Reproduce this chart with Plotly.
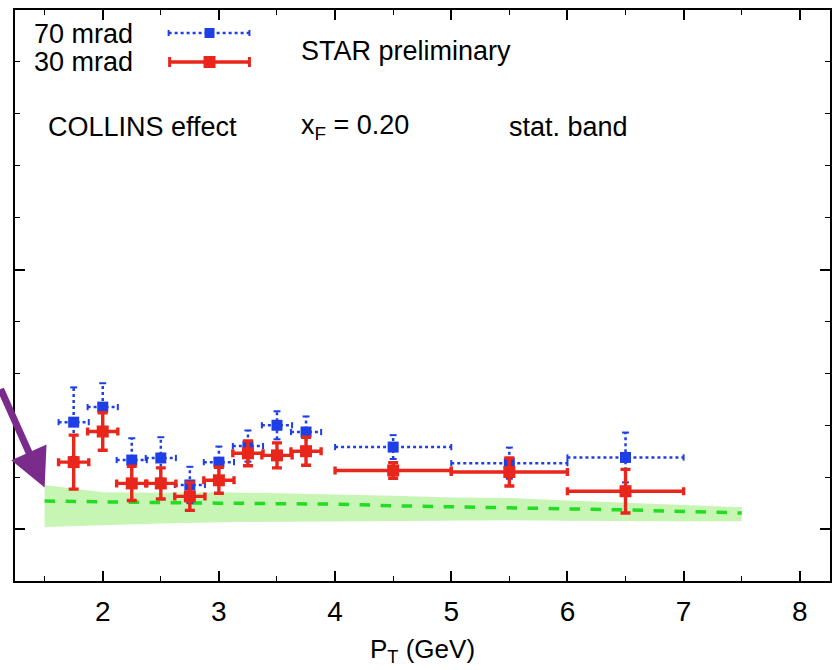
import plotly.graph_objects as go

# ---------------- data ----------------
pt_bins = [1.75, 2.0, 2.25, 2.5, 2.75, 3.0, 3.25, 3.5, 3.75, 4.5, 5.5, 6.5]
pt_halfwidth = [0.13, 0.13, 0.13, 0.13, 0.13, 0.13, 0.13, 0.13, 0.13, 0.5, 0.5, 0.5]

an_70mrad = [0.0206, 0.0235, 0.0133, 0.0137, 0.0085, 0.0129, 0.0160, 0.0200, 0.0187, 0.0158, 0.0127, 0.0138]
err_70mrad = [0.0067, 0.0046, 0.0042, 0.0040, 0.0035, 0.0030, 0.0030, 0.0027, 0.0030, 0.0023, 0.0030, 0.0048]

an_30mrad = [0.0129, 0.0188, 0.0088, 0.0088, 0.0063, 0.0094, 0.0146, 0.0142, 0.0150, 0.0113, 0.0110, 0.0073]
err_30mrad = [0.0052, 0.0036, 0.0033, 0.0030, 0.0027, 0.0025, 0.0024, 0.0024, 0.0027, 0.0015, 0.0027, 0.0042]

band_pt = [1.5, 2.0, 2.5, 3.0, 3.5, 4.0, 4.5, 5.0, 5.5, 6.0, 6.5, 7.0, 7.5]
band_mid = [0.0054, 0.0052, 0.0051, 0.0050, 0.0049, 0.0048, 0.0045, 0.0043, 0.0042, 0.0040, 0.0037, 0.0034, 0.0031]
band_hi = [0.0085, 0.0071, 0.0070, 0.0071, 0.0069, 0.0067, 0.0064, 0.0061, 0.0060, 0.0055, 0.0051, 0.0046, 0.0042]
band_lo = [0.0004, 0.0008, 0.0011, 0.0013, 0.0014, 0.0015, 0.0016, 0.0017, 0.0017, 0.0016, 0.0015, 0.0015, 0.0015]

x_ticks = [2, 3, 4, 5, 6, 7, 8]
y_major = [0.0, 0.05, 0.1]

BLUE = "#1f3fe6"
RED = "#e8261b"
GREEN = "#22dd22"
BAND = "rgba(160,238,130,0.6)"
FONT = "Liberation Sans, Arial, sans-serif"

W, H = 836, 670
ML, MR, MT, MB = 15, 4, 10, 89


def px(x):
    return (x - ML) / (W - ML - MR)


def py(y):
    return (H - MB - y) / (H - MB - MT)


fig = go.Figure()

# stat. band
fig.add_trace(go.Scatter(x=band_pt, y=band_hi, mode="lines", line=dict(width=0),
                         hoverinfo="skip", showlegend=False))
fig.add_trace(go.Scatter(x=band_pt, y=band_lo, mode="lines", line=dict(width=0),
                         fill="tonexty", fillcolor=BAND, hoverinfo="skip", showlegend=False))
fig.add_trace(go.Scatter(x=band_pt, y=band_mid, mode="lines",
                         line=dict(color=GREEN, width=3.5, dash="dash"), showlegend=False))

# 70 mrad: dotted error bars built from the data
bx, by, cx, cy = [], [], [], []
capx, capy = 0.03, 0.0006
for x, y, dx, dy in zip(pt_bins, an_70mrad, pt_halfwidth, err_70mrad):
    bx += [x - dx, x + dx, None, x, x, None]
    by += [y, y, None, y - dy, y + dy, None]
    cx += [x - dx, x - dx, None, x + dx, x + dx, None,
           x - capx, x + capx, None, x - capx, x + capx, None]
    cy += [y - capy, y + capy, None, y - capy, y + capy, None,
           y + dy, y + dy, None, y - dy, y - dy, None]
fig.add_trace(go.Scatter(x=bx, y=by, mode="lines", line=dict(color=BLUE, width=2.5, dash="dot"),
                         showlegend=False, hoverinfo="skip"))
fig.add_trace(go.Scatter(x=cx, y=cy, mode="lines", line=dict(color=BLUE, width=2),
                         showlegend=False, hoverinfo="skip"))
fig.add_trace(go.Scatter(x=pt_bins, y=an_70mrad, mode="markers",
                         marker=dict(symbol="square", size=11, color=BLUE), showlegend=False))

# 30 mrad: solid error bars
fig.add_trace(go.Scatter(
    x=pt_bins, y=an_30mrad, mode="markers",
    marker=dict(symbol="square", size=12, color=RED),
    error_x=dict(type="data", array=pt_halfwidth, color=RED, thickness=3.4, width=4),
    error_y=dict(type="data", array=err_30mrad, color=RED, thickness=3.4, width=5),
    showlegend=False))

# ---------------- legend (drawn by hand, gnuplot style) ----------------
shapes = []
# blue sample
shapes.append(dict(type="line", xref="paper", yref="paper", x0=px(169), x1=px(250), y0=py(33), y1=py(33),
                   line=dict(color=BLUE, width=2.5, dash="dot")))
for xx in (169, 250):
    shapes.append(dict(type="line", xref="paper", yref="paper", x0=px(xx), x1=px(xx), y0=py(30), y1=py(36),
                       line=dict(color=BLUE, width=2)))
shapes.append(dict(type="rect", xref="paper", yref="paper", x0=px(205), x1=px(215), y0=py(28), y1=py(38),
                   line=dict(width=0), fillcolor=BLUE))
# red sample
shapes.append(dict(type="line", xref="paper", yref="paper", x0=px(170), x1=px(250), y0=py(62), y1=py(62),
                   line=dict(color=RED, width=3.4)))
for xx in (170, 250):
    shapes.append(dict(type="line", xref="paper", yref="paper", x0=px(xx), x1=px(xx), y0=py(57), y1=py(67),
                       line=dict(color=RED, width=3)))
shapes.append(dict(type="rect", xref="paper", yref="paper", x0=px(204), x1=px(216), y0=py(56), y1=py(68),
                   line=dict(width=0), fillcolor=RED))

ann = []


def text(s, x, y, size=27):
    ann.append(dict(text=s, xref="paper", yref="paper", x=px(x), y=py(y), xanchor="left", yanchor="middle",
                    showarrow=False, font=dict(family=FONT, size=size, color="black")))


text("70 mrad", 32, 34)
text("30 mrad", 32, 62)
text("STAR preliminary", 300, 51)
text("COLLINS effect", 46, 127)
text("x<sub>F</sub> = 0.20", 300, 127)
text("stat. band", 508, 127)

# x-axis title
ann.append(dict(text="P<sub>T</sub> (GeV)", xref="paper", yref="paper", x=px(423), y=py(650),
                xanchor="center", yanchor="middle", showarrow=False,
                font=dict(family=FONT, size=26, color="black")))

# purple arrow pointing to the band
ann.append(dict(text="", x=1.5, y=0.0080, xref="x", yref="y", ax=-56, ay=-100,
                showarrow=True, arrowhead=2, arrowsize=1.1, arrowwidth=7, arrowcolor="#7a2b8c"))

fig.update_layout(
    width=W, height=H,
    margin=dict(l=ML, r=MR, t=MT, b=MB),
    paper_bgcolor="white", plot_bgcolor="white",
    showlegend=False,
    shapes=shapes, annotations=ann,
    xaxis=dict(range=[1.245, 8.26], tickvals=x_ticks, ticks="inside", ticklen=10, tickwidth=1.5,
               tickcolor="black", showline=True, linecolor="black", linewidth=2, mirror="allticks",
               showgrid=False, zeroline=False, ticklabelstandoff=4,
               tickfont=dict(family=FONT, size=28, color="black"),
               minor=dict(dtick=0.5, ticks="inside", ticklen=5, tickcolor="black", tickwidth=1.2, showgrid=False)),
    yaxis=dict(range=[-0.01, 0.1], tickvals=y_major, ticks="inside", ticklen=10, tickwidth=1.5,
               tickcolor="black", showline=True, linecolor="black", linewidth=2, mirror="allticks",
               showgrid=False, zeroline=False, showticklabels=False,
               minor=dict(dtick=0.01, ticks="inside", ticklen=5, tickcolor="black", tickwidth=1.2, showgrid=False)),
)

fig.write_html("out.html")
